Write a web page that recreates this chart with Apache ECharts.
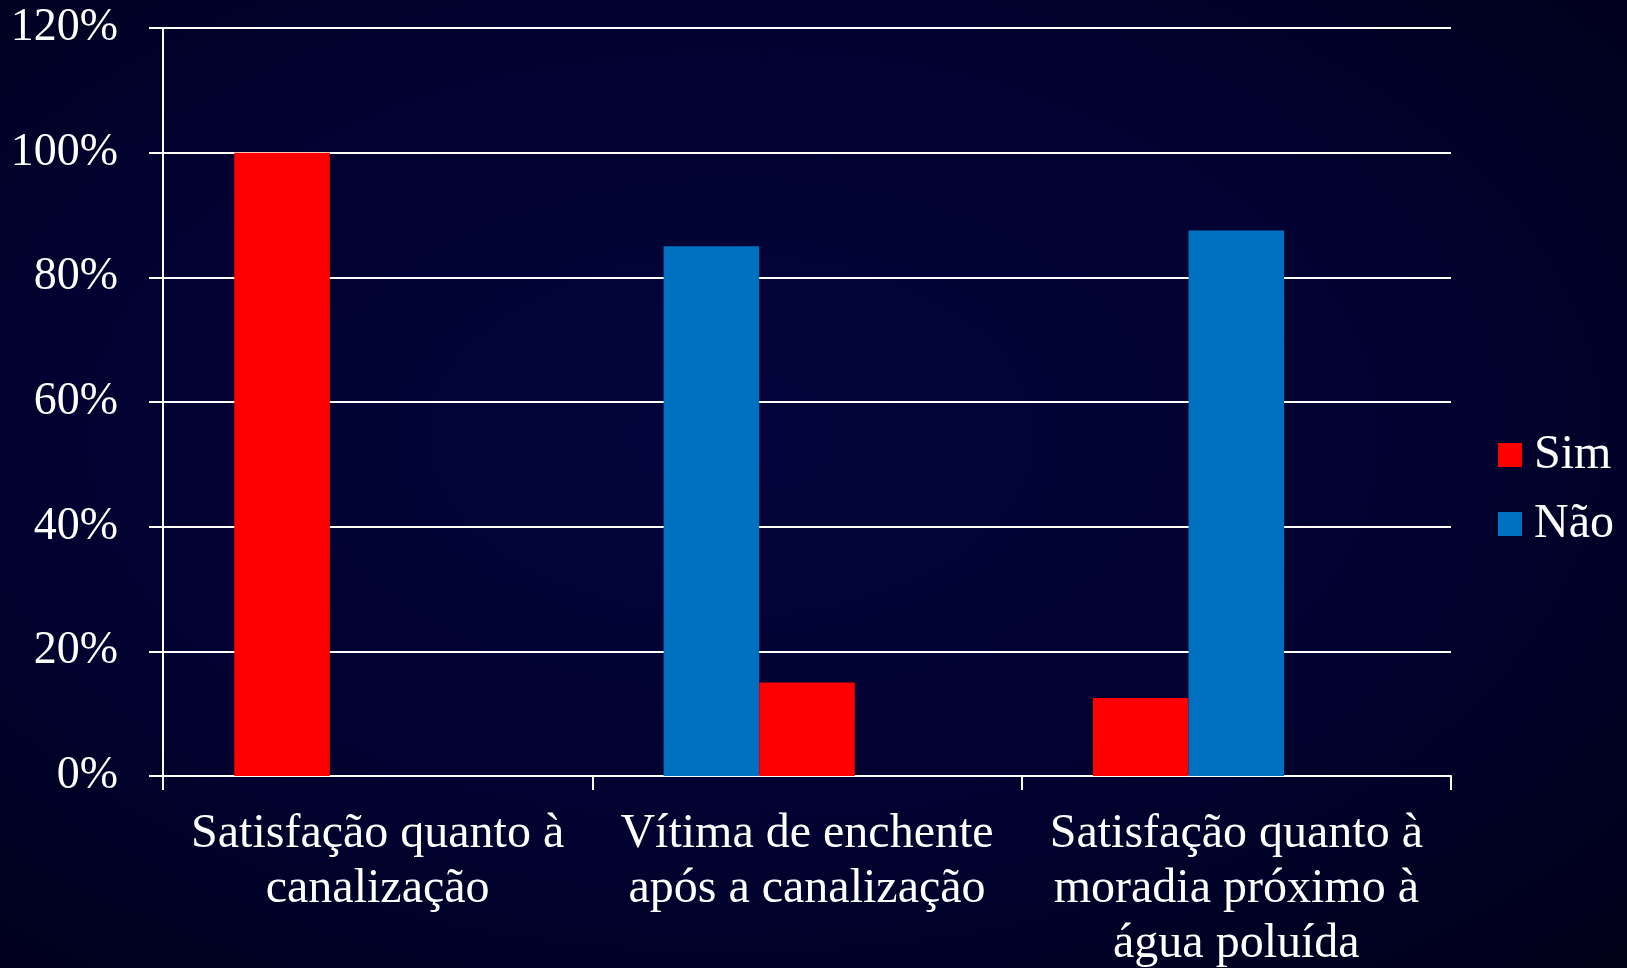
<!DOCTYPE html>
<html>
<head>
<meta charset="utf-8">
<script src="https://cdn.jsdelivr.net/npm/echarts@6/dist/echarts.min.js"></script>
<style>
html,body{margin:0;padding:0;width:1627px;height:968px;overflow:hidden;}
#c{width:1627px;height:968px;background:radial-gradient(ellipse at 45% 45%, #03043a 0%, #010230 55%, #000018 100%);}
</style>
</head>
<body>
<div id="c"></div>
<script>
const categories = [
  "Satisfação quanto à\ncanalização",
  "Vítima de enchente\napós a canalização",
  "Satisfação quanto à\nmoradia próximo à\nágua poluída"
];
const simValues = [100, 15, 12.5];
const naoValues = [0, 85, 87.5];
// which answer occupies the first bar slot in each category (as in the original chart);
// the original chart reserves a third, empty slot in every category
const simFirst = [true, false, true];
const emptySlot = [null, null, null];
const yTicks = [0, 20, 40, 60, 80, 100, 120];

const RED = '#FF0000', BLUE = '#0070C0';
const FONT = "'Liberation Serif','Times New Roman',serif";

function slot(first) {
  return categories.map((c, i) => {
    const sim = first ? simFirst[i] : !simFirst[i];
    return { value: sim ? simValues[i] : naoValues[i], itemStyle: { color: sim ? RED : BLUE } };
  });
}

const chart = echarts.init(document.getElementById('c'), null, {renderer: 'canvas'});
chart.setOption({
  backgroundColor: 'transparent',
  animation: false,
  grid: { left: 163, right: 176, top: 28, bottom: 192, containLabel: false, outerBoundsMode: 'none' },
  legend: {
    orient: 'vertical', left: 1493, top: 426,
    data: ['Sim', 'Não'], icon: 'rect', itemWidth: 24, itemHeight: 24, itemGap: 21,
    textStyle: { color: '#fff', fontFamily: FONT, fontSize: 48, lineHeight: 48, padding: [0, 0, 0, 7] }
  },
  xAxis: {
    type: 'category', data: categories,
    axisLine: { show: true, lineStyle: { color: '#fff', width: 2 } },
    axisTick: { show: true, length: 14, lineStyle: { color: '#fff', width: 2 } },
    axisLabel: { color: '#fff', fontFamily: FONT, fontSize: 48, lineHeight: 55, margin: 31, interval: 0 }
  },
  yAxis: {
    type: 'value', min: yTicks[0], max: yTicks[yTicks.length - 1], interval: yTicks[1] - yTicks[0],
    axisLine: { show: true, lineStyle: { color: '#fff', width: 2 } },
    axisTick: { show: true, length: 14, lineStyle: { color: '#fff', width: 2 } },
    splitLine: { show: true, lineStyle: { color: '#fff', width: 2 } },
    axisLabel: { color: '#fff', fontFamily: FONT, fontSize: 46, margin: 45, formatter: '{value}%' }
  },
  series: [
    { type: 'bar', name: 'slot1', barGap: '0%', barCategoryGap: '33.2%', data: slot(true) },
    { type: 'bar', name: 'slot2', barGap: '0%', barCategoryGap: '33.2%', data: slot(false) },
    { type: 'bar', name: 'slot3', barGap: '0%', barCategoryGap: '33.2%', data: emptySlot },
    { type: 'line', name: 'Sim', data: [], itemStyle: { color: RED }, lineStyle: { color: RED } },
    { type: 'line', name: 'Não', data: [], itemStyle: { color: BLUE }, lineStyle: { color: BLUE } }
  ]
});
</script>
</body>
</html>
